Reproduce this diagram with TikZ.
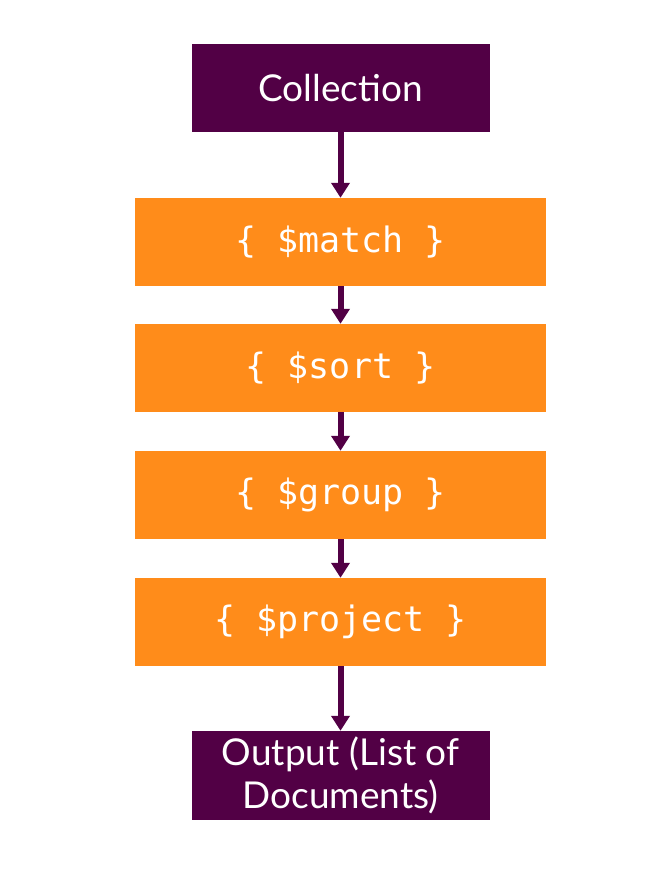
\documentclass[tikz,border=0pt]{standalone}
\usepackage{fontspec}
\setmainfont{Lato}
\setmonofont{DejaVu Sans Mono}
\usepackage{tikz}
\usetikzlibrary{arrows.meta, positioning}
\definecolor{stagecolor}{RGB}{255, 140, 26}
\definecolor{endcolor}{RGB}{82, 0, 69}

\begin{document}
\begin{tikzpicture}[
    x=1pt, y=-1pt,
    endbox/.style={fill=endcolor, text=white, minimum width=298pt, minimum height=88pt, inner sep=0pt, align=center, font=\fontsize{37}{43}\selectfont},
    stage/.style={fill=stagecolor, text=white, minimum width=411pt, minimum height=88pt, inner sep=0pt, font=\ttfamily\fontsize{35}{40}\selectfont},
    arrow/.style={-{Triangle[width=18pt, length=15pt]}, line width=6pt, draw=endcolor}
]
    % canvas
    \useasboundingbox (0, 0) rectangle (660, 878);

    % Source
    \node[endbox] (coll) at (340.5, 88) {Collection};

    % Pipeline stages
    \node[stage] (match) at (340.5, 242) {\{ \$match \}};
    \node[stage] (sort) at (340.5, 368) {\{ \$sort \}};
    \node[stage] (group) at (340.5, 495) {\{ \$group \}};
    \node[stage] (project) at (340.5, 622) {\{ \$project \}};

    % Result
    \node[endbox, minimum height=89pt] (out) at (340.5, 775.5) {Output (List of\\Documents)};

    % Connections
    \draw[arrow] (coll) -- (match);
    \draw[arrow] (match) -- (sort);
    \draw[arrow] (sort) -- (group);
    \draw[arrow] (group) -- (project);
    \draw[arrow] (project) -- (out);

\end{tikzpicture}
\end{document}
